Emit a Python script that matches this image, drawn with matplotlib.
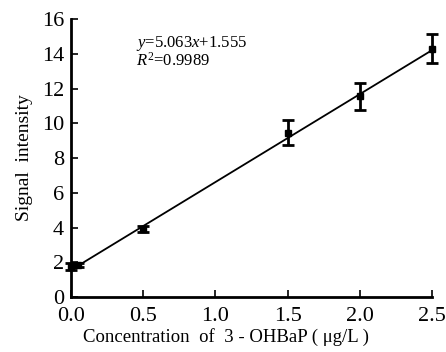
import matplotlib
matplotlib.use("Agg")
import matplotlib.pyplot as plt
import numpy as np

plt.rcParams['font.family'] = ['Liberation Serif', 'DejaVu Serif']
plt.rcParams['mathtext.fontset'] = 'custom'
plt.rcParams['mathtext.rm'] = 'Liberation Serif'
plt.rcParams['mathtext.it'] = 'Liberation Serif:italic'

# calibration data
conc = [0.0, 0.05, 0.5, 1.5, 2.0, 2.5]
signal = [1.75, 1.85, 3.92, 9.45, 11.55, 14.3]
err = [0.2, 0.12, 0.18, 0.72, 0.78, 0.85]

slope = 5.063
intercept = 1.555
fit_x = [0.0, 2.5]

xticks = [0.0, 0.5, 1.0, 1.5, 2.0, 2.5]
yticks = [0, 2, 4, 6, 8, 10, 12, 14, 16]

fig = plt.figure(figsize=(4.46, 3.52), dpi=100)
ax = fig.add_axes([0.159, 0.156, 0.81, 0.79])

fit_y = [slope * v + intercept for v in fit_x]
ax.plot(fit_x, fit_y, color='black', lw=1.3, zorder=2)
ax.errorbar(conc, signal, yerr=err, fmt='s', color='black', ms=4.5,
            elinewidth=2, capsize=4, capthick=2, zorder=3, clip_on=False)

ax.set_xlim(0, 2.5)
ax.set_ylim(0, 16)
ax.set_xticks(xticks)
ax.set_xticklabels([f"{v:.1f}" for v in xticks])
ax.set_yticks(yticks)
ax.tick_params(direction='in', length=5, width=1.2, labelsize=16)
ax.tick_params(axis='x', pad=7)
ax.tick_params(axis='y', pad=5)
for s in ['top', 'right']:
    ax.spines[s].set_visible(False)
for s in ['left', 'bottom']:
    ax.spines[s].set_linewidth(2)

ax.set_xlabel(r"Concentration  of  3 - OHBaP ( μg/L )", fontsize=13.5)
ax.xaxis.set_label_coords(0.43, -0.112)
ax.set_ylabel("Signal  intensity", fontsize=14, labelpad=6)

ax.text(0.18, 0.912, r"$\mathit{y}$=5.063$\mathit{x}$+1.555", transform=ax.transAxes,
        fontsize=12, va='center')
ax.text(0.18, 0.85, r"$\mathit{R}^2$=0.9989", transform=ax.transAxes,
        fontsize=12, va='center')

fig.savefig("out.png", dpi=100)
